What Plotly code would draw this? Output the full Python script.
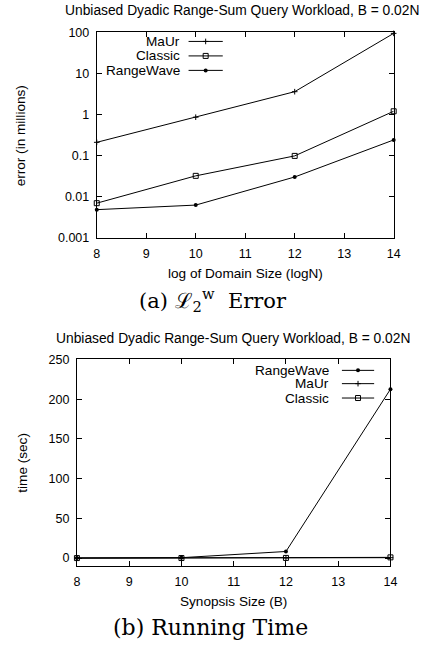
import plotly.graph_objects as go

# ---------------- data ----------------
log_domain = [8, 10, 12, 14]
err_maur = [0.21, 0.86, 3.6, 95]
err_classic = [0.0069, 0.032, 0.098, 1.2]
err_rangewave = [0.0048, 0.0062, 0.030, 0.24]

synopsis = [8, 10, 12, 14]
time_rangewave = [0.1, 0.5, 8.3, 212.5]
time_maur = [0.01, 0.02, 0.1, 0.5]
time_classic = [0.01, 0.05, 0.2, 0.9]

log_tickvals = [0.001, 0.01, 0.1, 1, 10, 100]
log_ticktext = ["0.001", "0.01", "0.1", "1", "10", "100"]
lin_tickvals = [0, 50, 100, 150, 200, 250]
x_tickvals = [8, 9, 10, 11, 12, 13, 14]

title_text = "Unbiased Dyadic Range-Sum Query Workload, B = 0.02N"
cap_a = "(a) ℒ<sub>2</sub><sup>w</sup>  Error"
cap_b = "(b) Running Time"

# ---------------- layout geometry ----------------
W, H = 429, 645
def px(x):
    return x / W
def ycorr(y):
    return (y - 6.0) / 0.98
def py(y):
    return 1 - ycorr(y) / H

top_x = [px(96), px(400)]
top_y = [py(237), py(31.5)]
bot_x = [px(75.7), px(396.7)]
bot_y = [py(566), py(359)]

SANS = "Liberation Sans, Arial, sans-serif"
SERIF = "DejaVu Serif, serif"
TXT = 13.6
TICK = 12.5

styles = {
    "MaUr": dict(symbol="cross-thin", size=4, line=dict(width=1, color="black"), color="black"),
    "Classic": dict(symbol="square-open", size=5, line=dict(width=1, color="black"), color="black"),
    "RangeWave": dict(symbol="circle", size=4, color="black", line=dict(width=0)),
}

fig = go.Figure()

def add_series(x, y, name, xa, ya):
    fig.add_trace(go.Scatter(
        x=x, y=y, mode="lines+markers", name=name,
        line=dict(color="black", width=1),
        marker=styles[name], xaxis=xa, yaxis=ya, showlegend=False,
        cliponaxis=False))

add_series(log_domain, err_maur, "MaUr", "x", "y")
add_series(log_domain, err_classic, "Classic", "x", "y")
add_series(log_domain, err_rangewave, "RangeWave", "x", "y")

add_series(synopsis, time_rangewave, "RangeWave", "x2", "y2")
add_series(synopsis, time_maur, "MaUr", "x2", "y2")
add_series(synopsis, time_classic, "Classic", "x2", "y2")

# ---------------- custom gnuplot-style legends ----------------
def add_legend(names, xa, ya, x0, x1, xtext, rows):
    for name, yr in zip(names, rows):
        fig.add_trace(go.Scatter(
            x=[x0, (x0 + x1) / 2, x1], y=[yr, yr, yr],
            mode="lines", line=dict(color="black", width=1),
            xaxis=xa, yaxis=ya, showlegend=False, hoverinfo="skip"))
        fig.add_trace(go.Scatter(
            x=[(x0 + x1) / 2], y=[yr], mode="markers", marker=styles[name],
            xaxis=xa, yaxis=ya, showlegend=False, hoverinfo="skip"))
        fig.add_annotation(x=xtext, y=yr, xref=xa, yref=ya, text=name,
                           showarrow=False, xanchor="right", yanchor="middle",
                           font=dict(family=SANS, size=TXT, color="black"))

add_legend(["MaUr", "Classic", "RangeWave"], "x3", "y3",
           (190 - 96) / 304, (225 - 96) / 304, (183 - 96) / 304,
           [(237 - 40.5) / 205.5, (237 - 55) / 205.5, (237 - 69.5) / 205.5])
add_legend(["RangeWave", "MaUr", "Classic"], "x4", "y4",
           (347 - 75.7) / 321, (380 - 75.7) / 321, (336 - 75.7) / 321,
           [(566 - 370) / 207, (566 - 383.3) / 207, (566 - 397.7) / 207])

axis_common = dict(showline=True, linecolor="black", linewidth=1, mirror="ticks",
                   ticks="inside", ticklen=5, tickcolor="black", tickwidth=1,
                   showgrid=False, zeroline=False,
                   tickfont=dict(family=SANS, size=TICK, color="black"))

fig.update_layout(
    width=W, height=H, margin=dict(l=0, r=0, t=0, b=0),
    paper_bgcolor="white", plot_bgcolor="white",
    xaxis=dict(domain=top_x, anchor="y", range=[8, 14], tickvals=x_tickvals,
               ticklabelstandoff=4, **axis_common),
    yaxis=dict(domain=top_y, anchor="x", type="log", range=[-3, 2],
               tickvals=log_tickvals, ticktext=log_ticktext,
               ticklabelstandoff=4, **axis_common),
    xaxis2=dict(domain=bot_x, anchor="y2", range=[8, 14], tickvals=x_tickvals,
                ticklabelstandoff=4, **axis_common),
    yaxis2=dict(domain=bot_y, anchor="x2", range=[-10, 250], tickvals=lin_tickvals,
                ticklabelstandoff=4, **axis_common),
    xaxis3=dict(domain=top_x, anchor="y3", range=[0, 1], visible=False, overlaying="x"),
    yaxis3=dict(domain=top_y, anchor="x3", range=[0, 1], visible=False, overlaying="y"),
    xaxis4=dict(domain=bot_x, anchor="y4", range=[0, 1], visible=False, overlaying="x2"),
    yaxis4=dict(domain=bot_y, anchor="x4", range=[0, 1], visible=False, overlaying="y2"),
)

def text(x, y, s, size=TXT, family=SANS, angle=0):
    fig.add_annotation(x=px(x), y=py(y), xref="paper", yref="paper", text=s,
                       showarrow=False, xanchor="center", yanchor="middle",
                       textangle=angle, font=dict(family=family, size=size, color="black"))

text(245, 10, title_text, size=13.8)
text(248, 273, "log of Domain Size (logN)")
text(18, 135, "error (in millions)", angle=-90)
text(215, 300, cap_a, size=21, family=SERIF)

text(236, 338, title_text, size=13.8)
text(236, 602, "Synopsis Size (B)")
text(20, 463, "time (sec)", angle=-90)
text(212, 628, cap_b, size=22, family=SERIF)

fig.write_html("out.html", config={"displayModeBar": False},
               post_script="document.body.style.margin='0';document.body.style.padding='0';")
